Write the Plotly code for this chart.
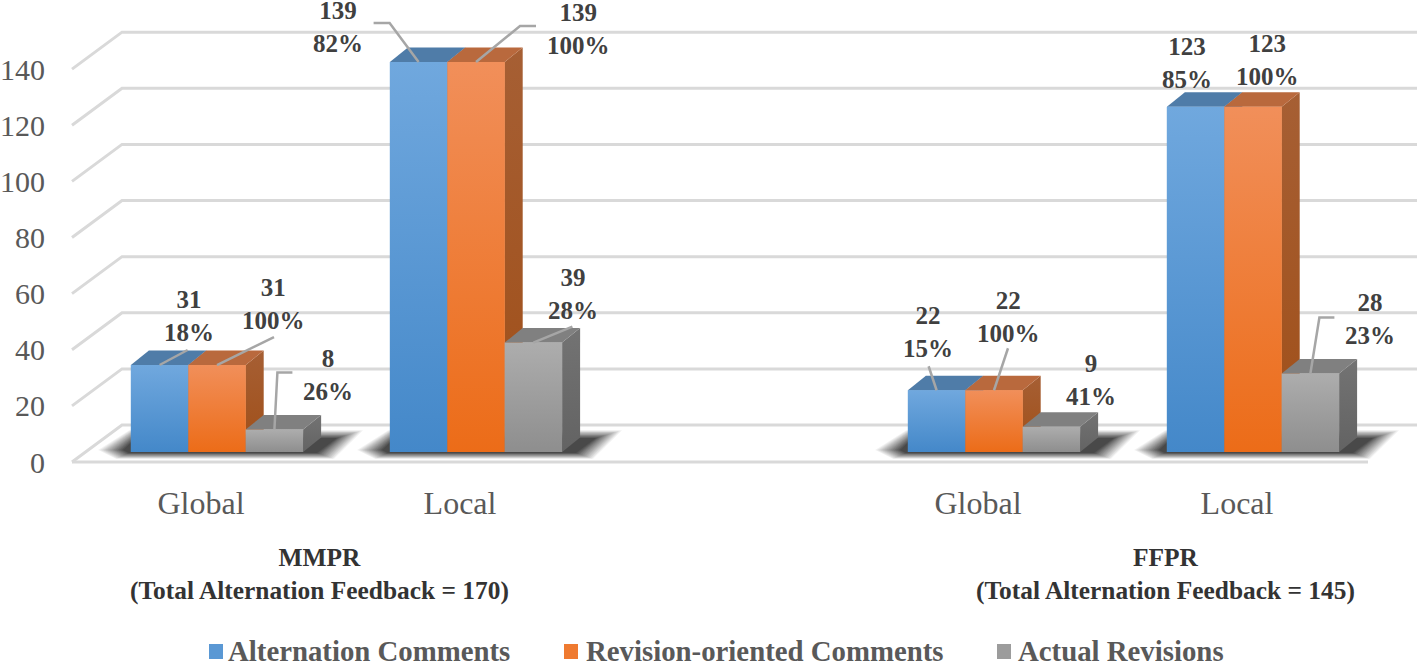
import plotly.graph_objects as go

# bar values
positions = [0, 1, 3, 4]
categories = ["Global", "Local", "Global", "Local"]
alternation = [31, 139, 22, 123]
revision = [31, 139, 22, 123]
actual = [8, 39, 9, 28]
alternation_pct = ["18%", "82%", "15%", "85%"]
revision_pct = ["100%", "100%", "100%", "100%"]
actual_pct = ["26%", "28%", "41%", "23%"]
y_ticks = [0, 20, 40, 60, 80, 100, 120, 140]

# page scale: pixels per axis unit, and where the axes sit
W, H = 1418, 661
LEFT, BOTTOM = 50, 475
X0_PX, X_PX = 201, 259.0
Y0_PX, Y_PX = 462, 2.806


def dx(px):
    return px / X_PX


def dy(px):
    return px / Y_PX


def xp(px):
    return (px - X0_PX) / X_PX


def yp(px):
    return (Y0_PX - px) / Y_PX


BAR_W = dx(57.4)
BAR_X = dx(16)       # bars stand a little behind the axis plane
BAR_Y = dy(10)
DEPTH_X, DEPTH_Y = dx(18), dy(14.5)
BACK_X, BACK_Y = dx(50), dy(37)

series = [
    dict(name="Alternation Comments", values=alternation, pct=alternation_pct,
         front=["#70a8de", "#4488c9"], top="#4f7ca8", side=["#4f7ca8", "#3f6f9f"], mid="#5a98d4",
         label_off=[(29.5, 49), (-80.5, 35), (-8.5, 58), (-8.5, 43.5)],
         leader=[[(0, 0), (28, 15)], [(0, 0), (-29, 39), (-45, 39)], [(0, 0), (-8, 24)], None]),
    dict(name="Revision-oriented Comments", values=revision, pct=revision_pct,
         front=["#f18f5a", "#ec6c18"], top="#b9693d", side=["#a65f34", "#a04f18"], mid="#ef7a30",
         label_off=[(56.5, 61), (102, 33), (14, 73), (14.5, 47)],
         leader=[[(0, 0), (57, 28)], [(0, 0), (44, 36), (60, 36)], [(0, 0), (14, 42)], None]),
    dict(name="Actual Revisions", values=actual, pct=actual_pct,
         front=["#adadad", "#8e8e8e"], top="#808080", side=["#737373", "#636363"], mid="#9c9c9c",
         label_off=[(54, 54.5), (40, 49), (40, 47), (59.5, 54)],
         leader=[[(0, 0), (3, 57), (18, 57)], [(0, 0), (39, 16)], None, [(0, 0), (9, 56), (24, 56)]]),
]

# hand placed legend, the native one cannot space its entries like this
legend_swatch_px = [209, 564, 997]
legend_text_px = [228, 586, 1018]

fig = go.Figure()
shapes = []
annotations = []


def paper_x(px):
    return (px - LEFT) / (W - LEFT)


def paper_y(px):
    return (BOTTOM - px) / BOTTOM


# gridlines: slanted side wall then the back wall
right_back = xp(1417)
for v in y_ticks:
    path = f"M {xp(72)} {v} L {xp(72) + BACK_X} {v + BACK_Y} L {right_back} {v + BACK_Y}"
    shapes.append(dict(type="path", path=path, xref="x", yref="y", layer="below",
                       line=dict(color="#d9d9d9", width=3)))
# floor front edge
shapes.append(dict(type="line", x0=xp(72), x1=xp(1368), y0=0, y1=0, xref="x", yref="y", layer="below",
                   line=dict(color="#d9d9d9", width=3)))

# soft shadow under each group of bars, stacked see-through layers
# alpha per layer is worked out so the darkness ramps evenly from the edge in
SHADOW_LAYERS = 14
SHADOW_MAX = 0.8
for pos in positions:
    left_px = X0_PX + X_PX * (pos + BAR_X - 1.5 * BAR_W)
    right_px = X0_PX + X_PX * (pos + BAR_X + 1.5 * BAR_W + DEPTH_X)
    prev = 0.0
    for k in range(1, SHADOW_LAYERS + 1):
        g = SHADOW_LAYERS - k
        total = SHADOW_MAX * k / SHADOW_LAYERS
        alpha = 1 - (1 - total) / (1 - prev)
        prev = total
        pts = [
            (left_px - 8 - g * 1.9, 450),
            (left_px + 5 - g * 0.5, 438 - g * 0.6),
            (right_px + 16 + g * 2, 438 - g * 0.6),
            (right_px - 4 + g * 1.3, 453 + g * 0.45),
            (left_px - 2 - g, 453 + g * 0.45),
        ]
        path = "M " + " L ".join(f"{xp(a)} {yp(b)}" for a, b in pts) + " Z"
        shapes.append(dict(type="path", path=path, xref="x", yref="y", layer="below",
                           fillcolor=f"rgba(30,30,30,{alpha:.3f})", line=dict(width=0)))

# front faces as real bars
for i, s in enumerate(series):
    fig.add_trace(go.Bar(
        x=[p + BAR_X for p in positions], y=s["values"], base=BAR_Y, width=BAR_W,
        offset=(i - 1.5) * BAR_W, name=s["name"], marker=dict(color=s["mid"], line=dict(width=0)),
        hoverinfo="name+y", showlegend=False,
    ))


def face(xs, ys, fill=None, colors=None):
    kw = dict(fill="toself", mode="lines", line=dict(width=0), showlegend=False, hoverinfo="skip")
    if colors:
        kw["fillgradient"] = dict(type="vertical", colorscale=[[0, colors[1]], [1, colors[0]]])
        kw["fillcolor"] = colors[0]
    else:
        kw["fillcolor"] = fill
    fig.add_trace(go.Scatter(x=xs, y=ys, **kw))


# sides and tops go on in series order so the next bar covers the last one
for i, s in enumerate(series):
    for pos, v in zip(positions, s["values"]):
        x0 = pos + BAR_X + (i - 1.5) * BAR_W
        x1 = x0 + BAR_W
        top = BAR_Y + v
        face([x1, x1 + DEPTH_X, x1 + DEPTH_X, x1, x1],
             [BAR_Y, BAR_Y + DEPTH_Y, top + DEPTH_Y, top, BAR_Y], colors=s["side"])
        face([x0, x1, x1 + DEPTH_X, x0 + DEPTH_X, x0],
             [top, top, top + DEPTH_Y, top + DEPTH_Y, top], fill=s["top"])
        face([x0, x1, x1, x0, x0], [BAR_Y, BAR_Y, top, top, BAR_Y], colors=s["front"])

# leader lines and value labels
for i, s in enumerate(series):
    for j, pos in enumerate(positions):
        cx = pos + BAR_X + (i - 1) * BAR_W
        top = BAR_Y + s["values"][j]
        if s["leader"][j]:
            fig.add_trace(go.Scatter(
                x=[cx + dx(a) for a, b in s["leader"][j]],
                y=[top + dy(b) for a, b in s["leader"][j]],
                mode="lines", line=dict(color="#a6a6a6", width=2.5),
                showlegend=False, hoverinfo="skip",
            ))
        off_x, off_y = s["label_off"][j]
        annotations.append(dict(
            x=cx, y=top, xref="x", yref="y", xshift=off_x, yshift=off_y, showarrow=False,
            text=f"<b>{s['values'][j]}<br>{s['pct'][j]}</b>",
            font=dict(family="Liberation Serif", size=25, color="#404040"),
        ))

# group captions under the axis
for cx, name, total in [(319, "MMPR", 170), (1165, "FFPR", 145)]:
    annotations.append(dict(
        x=paper_x(cx), y=paper_y(574), xref="paper", yref="paper", showarrow=False,
        xanchor="center", yanchor="middle",
        text=f"<b>{name}<br>(Total Alternation Feedback = {total})</b>",
        font=dict(family="Liberation Serif", size=25.4, color="#333333"),
    ))

# legend row
for s, sx, tx in zip(series, legend_swatch_px, legend_text_px):
    shapes.append(dict(type="rect", xref="paper", yref="paper", layer="above",
                       x0=paper_x(sx), x1=paper_x(sx + 14), y0=paper_y(659), y1=paper_y(644),
                       fillcolor=s["mid"], line=dict(width=0)))
    annotations.append(dict(
        x=paper_x(tx), y=paper_y(651), xref="paper", yref="paper", xanchor="left", yanchor="middle",
        showarrow=False, xshift=-2, text=f"<b>{s['name']}</b>",
        font=dict(family="Liberation Serif", size=28.8, color="#595959"),
    ))

fig.update_layout(
    width=W, height=H,
    margin=dict(l=LEFT, r=0, t=0, b=H - BOTTOM, pad=0),
    paper_bgcolor="white", plot_bgcolor="white",
    barmode="overlay", showlegend=False,
    shapes=shapes, annotations=annotations,
    xaxis=dict(
        range=[xp(LEFT), xp(W)], tickvals=positions, ticktext=categories,
        showgrid=False, zeroline=False, showline=False, ticks="",
        tickfont=dict(family="Liberation Serif", size=32, color="#595959"),
        ticklabelstandoff=6,
    ),
    yaxis=dict(
        range=[yp(BOTTOM), yp(0)], tickvals=y_ticks,
        showgrid=False, zeroline=False, showline=False, ticks="",
        tickfont=dict(family="Liberation Serif", size=30, color="#595959"),
        ticklabelstandoff=4,
    ),
    font=dict(family="Liberation Serif"),
)

# the page's default body margin would push everything 8px in
fig.write_html("out.html", config={"displayModeBar": False}, post_script="document.body.style.margin='0';")
